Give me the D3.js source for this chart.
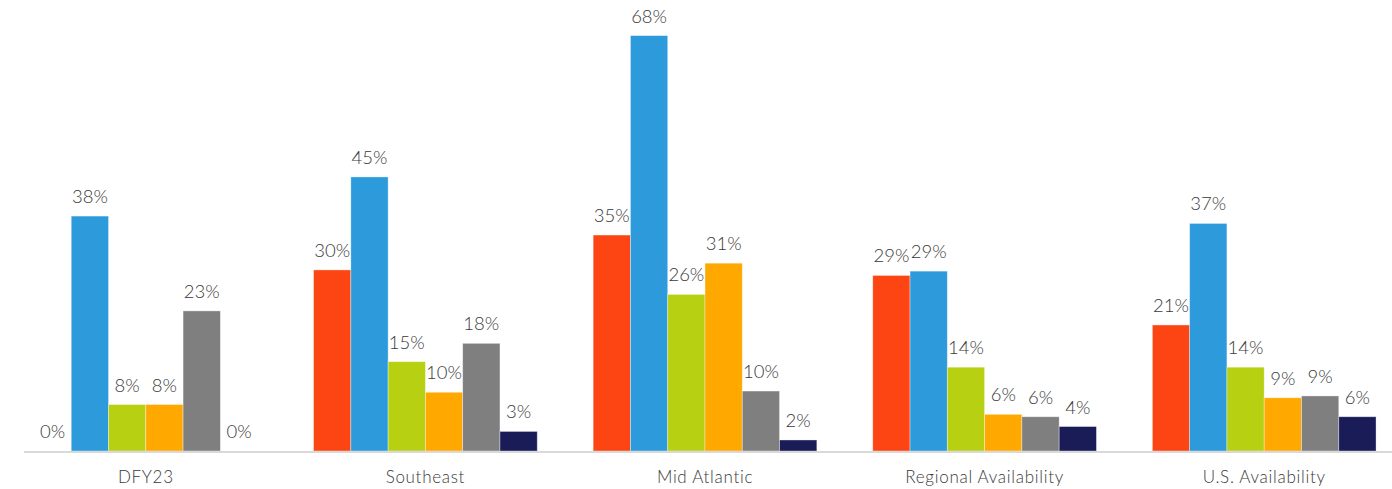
<!DOCTYPE html>
<html>
<head>
<meta charset="utf-8">
<script src="https://cdn.jsdelivr.net/npm/d3@7"></script>
<style>
  body { margin: 0; background: #fff; }
  svg text { font-family: Lato, "Open Sans", sans-serif; font-weight: 300; fill: #3a3a3a; }
</style>
</head>
<body>
<div class="chart"></div>
<script>
// categories along the x axis
const categories = ["DFY23", "Southeast", "Mid Atlantic", "Regional Availability", "U.S. Availability"];
// one array per series (percent)
const series1 = [0, 29.6, 35.3, 28.7, 20.6];
const series2 = [38.4, 44.8, 67.9, 29.4, 37.2];
const series3 = [7.6, 14.6, 25.6, 13.7, 13.7];
const series4 = [7.6, 9.6, 30.7, 6.0, 8.7];
const series5 = [22.9, 17.6, 9.8, 5.6, 9.0];
const series6 = [0, 3.2, 1.8, 4.0, 5.6];
const seriesNames = ["s1", "s2", "s3", "s4", "s5", "s6"];
const colors = ["#fc4512", "#2d9adb", "#b7d011", "#ffa800", "#7f7f7f", "#1a1c58"];

const allSeries = [series1, series2, series3, series4, series5, series6];

const w = 1392;
const h = 489;
const baseY = 451;

const x0 = d3.scaleBand()
  .domain(categories)
  .range([6, 1404])
  .paddingInner(0.2)
  .paddingOuter(0.1);

const x1 = d3.scaleBand()
  .domain(seriesNames)
  .range([0, x0.bandwidth()]);

// 68% bar reaches y=35
const y = d3.scaleLinear()
  .domain([0, 68])
  .range([baseY, 35]);

const svg = d3.select(".chart")
  .append("svg")
  .attr("width", w)
  .attr("height", h);

const groups = svg.selectAll("g.group")
  .data(categories)
  .enter()
  .append("g")
  .attr("class", "group")
  .attr("transform", (d) => "translate(" + x0(d) + ",0)");

groups.selectAll("rect")
  .data((d, i) => allSeries.map((s, j) => ({ key: seriesNames[j], value: s[i], color: colors[j] })))
  .enter()
  .append("rect")
  .attr("x", (d) => x1(d.key))
  .attr("y", (d) => y(d.value))
  .attr("width", x1.bandwidth())
  .attr("height", (d) => baseY - y(d.value))
  .style("fill", (d) => d.color)
  .style("stroke", "#fff")
  .style("stroke-opacity", 0.45)
  .style("stroke-width", 0.8);

groups.selectAll("text.val")
  .data((d, i) => allSeries.map((s, j) => ({ key: seriesNames[j], value: s[i] })))
  .enter()
  .append("text")
  .attr("class", "val")
  .attr("x", (d) => x1(d.key) + x1.bandwidth() / 2)
  .attr("y", (d) => y(d.value) - 13)
  .attr("text-anchor", "middle")
  .style("font-size", "18.5px")
  .text((d) => Math.round(d.value) + "%");

// baseline
svg.append("line")
  .attr("x1", 24)
  .attr("x2", w)
  .attr("y1", baseY + 1)
  .attr("y2", baseY + 1)
  .style("stroke", "#d9d9d9")
  .style("stroke-width", 2);

const xAxis = d3.axisBottom(x0).tickSize(0).tickPadding(0);

const gx = svg.append("g")
  .attr("id", "x-axis")
  .attr("transform", "translate(0,483)")
  .call(xAxis);
gx.select(".domain").remove();
gx.selectAll("text")
  .attr("y", 0)
  .attr("dy", 0)
  .style("font-family", "Lato, 'Open Sans', sans-serif")
  .style("font-weight", 300)
  .style("font-size", "17px")
  .style("letter-spacing", "0.7px")
  .style("fill", "#3a3a3a");
</script>
</body>
</html>
